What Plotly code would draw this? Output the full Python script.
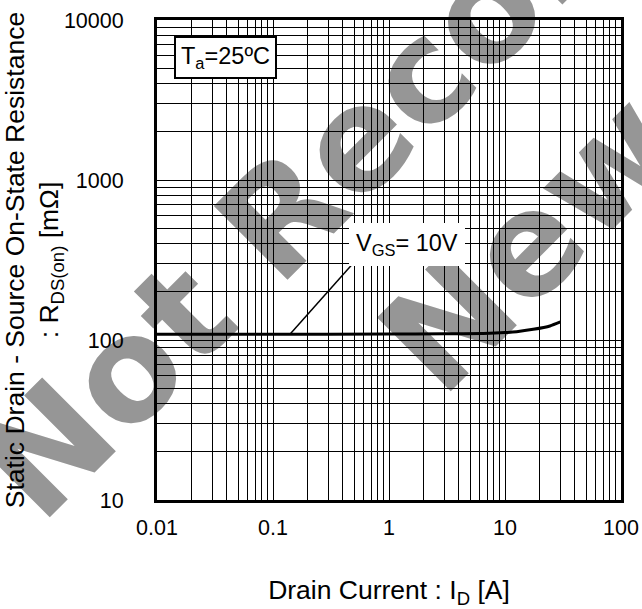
import plotly.graph_objects as go

# ---- data ----
drain_current_A = [0.01, 0.1, 1, 3, 6.5, 10, 12.6, 17.5, 24.4, 30]
rds_on_mohm = [108.7, 108.7, 108.9, 109.3, 110.0, 111.3, 112.7, 116.6, 122.4, 129.6]

leader_x = [0.140, 0.476]
leader_y = [108.7, 294]

x_tick_vals = [0.01, 0.1, 1, 10, 100]
x_tick_text = ["0.01", "0.1", "1", "10", "100"]
y_tick_vals = [10, 100, 1000, 10000]
y_tick_text = ["10", "100", "1000", "10000"]

curve_label = "V<sub>GS</sub>= 10V"
temp_label = "T<sub>a</sub>=25ºC"
x_title = "Drain Current : I<sub>D</sub> [A]"
y_title = "Static Drain - Source On-State Resistance<br>: R<sub>DS(on)</sub> [mΩ]"
watermark_lines = ["Not Recommended for", "New Designs"]

FONT = "Liberation Sans, Arial, sans-serif"

def minor_vals(lo_exp, hi_exp):
    vals = []
    for e in range(lo_exp, hi_exp):
        for m in range(2, 10):
            vals.append(m * 10 ** e)
    return vals

fig = go.Figure()

fig.add_trace(go.Scatter(
    x=drain_current_A, y=rds_on_mohm, mode="lines",
    line=dict(color="black", width=3, shape="spline", smoothing=0.6),
    showlegend=False, hoverinfo="skip"))

fig.add_trace(go.Scatter(
    x=leader_x, y=leader_y, mode="lines",
    line=dict(color="black", width=1.5),
    showlegend=False, hoverinfo="skip"))

axis_common = dict(
    type="log",
    showgrid=True, gridcolor="black", gridwidth=1,
    showline=True, mirror=True, linecolor="black", linewidth=3,
    ticks="", zeroline=False,
    tickfont=dict(family=FONT, size=21.5, color="black"),
)

fig.update_xaxes(
    **axis_common,
    range=[-2, 2],
    tickmode="array", tickvals=x_tick_vals, ticktext=x_tick_text,
    minor=dict(tickmode="array", tickvals=minor_vals(-2, 2),
               showgrid=True, gridcolor="black", gridwidth=1, ticks=""),
    ticklabelstandoff=6,
    title=dict(text=x_title, font=dict(family=FONT, size=26.5, color="black"),
               standoff=58),
)
fig.update_yaxes(
    **axis_common,
    range=[1, 4],
    tickmode="array", tickvals=y_tick_vals, ticktext=y_tick_text,
    minor=dict(tickmode="array", tickvals=minor_vals(1, 4),
               showgrid=True, gridcolor="black", gridwidth=1, ticks=""),
    ticklabelstandoff=26,
    title=dict(text=y_title, font=dict(family=FONT, size=26.5, color="black"),
               standoff=2),
)

# watermark drawn below the grid as shape labels
wm_font = dict(family="DejaVu Sans", size=143, color="rgb(150,150,150)", weight="bold")
wm_lines_geom = [
    (-0.3416, 0.0323, 0.4213, 0.7698),
    (0.5225, 0.2950, 1.2854, 1.0325),
]
for text, (x0, y0, x1, y1) in zip(watermark_lines, wm_lines_geom):
    fig.add_shape(
        type="line", xref="paper", yref="paper",
        x0=x0, y0=y0, x1=x1, y1=y1,
        line=dict(width=0, color="rgba(0,0,0,0)"),
        layer="below",
        label=dict(text=text, font=wm_font, textposition="start",
                   xanchor="left", yanchor="middle", padding=0),
    )

fig.add_annotation(
    xref="paper", yref="paper", x=(225 - 157) / 464, y=(500 - 57.5) / 480,
    text=temp_label, showarrow=False,
    font=dict(family=FONT, size=23.5, color="black"),
    bgcolor="white", bordercolor="black", borderwidth=2, borderpad=5,
    xanchor="center", yanchor="middle")

fig.add_annotation(
    xref="paper", yref="paper", x=(406.5 - 157) / 464, y=(500 - 244) / 480,
    text=curve_label, showarrow=False,
    font=dict(family=FONT, size=23.5, color="black"),
    bgcolor="white", borderwidth=0, borderpad=7,
    xanchor="center", yanchor="middle")

fig.update_layout(
    width=642, height=609,
    margin=dict(l=157, r=21, t=20, b=109, autoexpand=False),
    paper_bgcolor="white", plot_bgcolor="white",
    showlegend=False,
)

fig.write_html(
    "out.html",
    config={"displayModeBar": False},
    post_script="document.body.style.margin='0px';document.body.style.overflow='hidden';",
)
